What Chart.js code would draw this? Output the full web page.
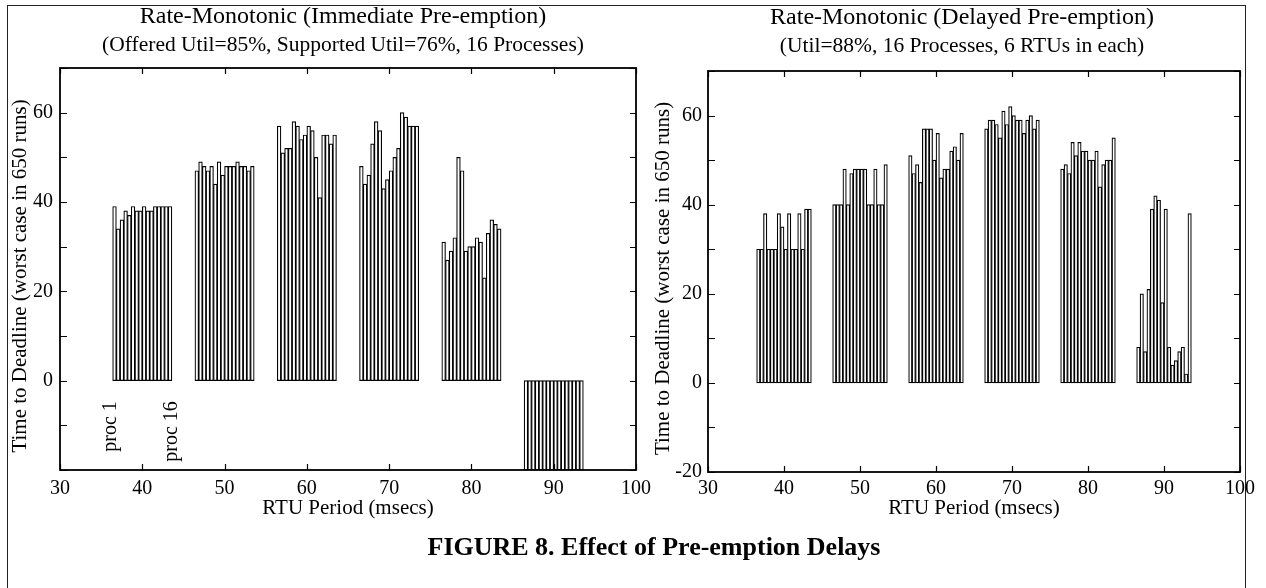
<!DOCTYPE html>
<html><head><meta charset="utf-8">
<script src="https://cdn.jsdelivr.net/npm/chart.js@4.4.1/dist/chart.umd.min.js"></script>
<style>
html,body{margin:0;padding:0;background:#fff;width:1266px;height:588px;overflow:hidden;}
#wrap{position:relative;width:1266px;height:588px;}
canvas{position:absolute;top:0;}
.t{position:absolute;font-family:'Liberation Serif','Times New Roman',serif;color:#000;white-space:nowrap;text-align:center;}
#frame{position:absolute;left:7px;top:5px;width:1237px;height:600px;border:1px solid #222;border-bottom:none;}
</style></head><body>
<div id="wrap">
<div id="frame"></div>
<canvas id="c1" width="660" height="588" style="left:0"></canvas>
<canvas id="c2" width="626" height="588" style="left:640px"></canvas>
<div class="t" style="left:43px;width:600px;top:3px;font-size:24px;line-height:24px">Rate-Monotonic (Immediate Pre-emption)</div>
<div class="t" style="left:43px;width:600px;top:34px;font-size:21.5px;line-height:21.5px">(Offered Util=85%, Supported Util=76%, 16 Processes)</div>
<div class="t" style="left:662px;width:600px;top:4px;font-size:24px;line-height:24px">Rate-Monotonic (Delayed Pre-emption)</div>
<div class="t" style="left:662px;width:600px;top:35px;font-size:21.5px;line-height:21.5px">(Util=88%, 16 Processes, 6 RTUs in each)</div>
<div class="t" style="left:154px;width:1000px;top:534px;font-size:26px;line-height:26px;font-weight:bold">FIGURE 8. Effect of Pre-emption Delays</div>
</div>
<script>
// ---- data ----
const periods = [40, 50, 60, 70, 80, 90];          // RTU period (msecs) of each group
const xTickLabels = [30, 40, 50, 60, 70, 80, 90, 100];
const yTickLabelsLeft = [0, 20, 40, 60];
const yTickLabelsRight = [-20, 0, 20, 40, 60];

// Immediate pre-emption: time to deadline, procs 1..16 in each period group
const imm40 = [39, 34, 36, 38, 37, 39, 38, 38, 39, 38, 38, 39, 39, 39, 39, 39];
const imm50 = [47, 49, 48, 47, 48, 44, 49, 46, 48, 48, 48, 49, 48, 48, 47, 48];
const imm60 = [57, 51, 52, 52, 58, 57, 54, 55, 57, 56, 50, 41, 55, 55, 53, 55];
const imm70 = [48, 44, 46, 53, 58, 56, 43, 45, 47, 50, 52, 60, 59, 57, 57, 57];
const imm80 = [31, 27, 29, 32, 50, 47, 29, 30, 30, 32, 31, 23, 33, 36, 35, 34];
const imm90 = [-20, -20, -20, -20, -20, -20, -20, -20, -20, -20, -20, -20, -20, -20, -20, -20];

// Delayed pre-emption
const del40 = [30, 30, 38, 30, 30, 30, 38, 35, 30, 38, 30, 30, 38, 30, 39, 39];
const del50 = [40, 40, 40, 48, 40, 47, 48, 48, 48, 48, 40, 40, 48, 40, 40, 49];
const del60 = [51, 47, 49, 45, 57, 57, 57, 50, 56, 46, 48, 48, 52, 53, 50, 56];
const del70 = [57, 59, 59, 58, 55, 61, 58, 62, 60, 59, 59, 56, 59, 60, 57, 59];
const del80 = [48, 49, 47, 54, 51, 54, 52, 52, 50, 50, 52, 44, 49, 50, 50, 55];
const del90 = [8, 20, 7, 21, 39, 42, 41, 18, 39, 8, 4, 5, 7, 8, 2, 38];

const procLabels = ['proc 1', 'proc 16'];
const procLabelX = [36.2, 43.6];
const procLabelY = -4.6;

const xTitle = 'RTU Period (msecs)';
const yTitle = 'Time to Deadline (worst case in 650 runs)';

// ---- styling / layout ----
const FONT = "'Liberation Serif', 'Times New Roman', serif";
const barStep = 0.45;   // spacing of processes inside a period group

function buildBars(groups) {
  const pts = [];
  groups.forEach((vals, g) => {
    vals.forEach((v, i) => {
      pts.push({ x: periods[g] + (i - (vals.length - 1) / 2) * barStep, y: v });
    });
  });
  return pts;
}

const plotFrame = {
  id: 'plotFrame',
  afterDraw(chart, args, opts) {
    const { ctx, chartArea: a, scales: { x, y } } = chart;
    ctx.save();
    ctx.strokeStyle = '#000';
    ctx.lineWidth = 1.2;
    ctx.beginPath();
    x.ticks.forEach(t => {
      const px = Math.round(x.getPixelForValue(t.value)) + 0.5;
      ctx.moveTo(px, a.bottom); ctx.lineTo(px, a.bottom - 6);
      ctx.moveTo(px, a.top); ctx.lineTo(px, a.top + 6);
    });
    y.ticks.forEach(t => {
      const py = Math.round(y.getPixelForValue(t.value)) + 0.5;
      ctx.moveTo(a.left, py); ctx.lineTo(a.left + 7, py);
      ctx.moveTo(a.right, py); ctx.lineTo(a.right - 6, py);
    });
    ctx.stroke();
    ctx.lineWidth = 1.8;
    ctx.strokeRect(a.left, a.top, a.right - a.left, a.bottom - a.top);
    // y-axis title
    ctx.fillStyle = '#000';
    ctx.font = '21px ' + FONT;
    ctx.textAlign = 'center';
    ctx.textBaseline = 'middle';
    ctx.translate(a.left - opts.titleGap, (a.top + a.bottom) / 2 + opts.titleShift);
    ctx.rotate(-Math.PI / 2);
    ctx.fillText(yTitle, 0, 0);
    ctx.restore();
  }
};

const procAnnot = {
  id: 'procAnnot',
  afterDraw(chart) {
    const { ctx, scales: { x, y } } = chart;
    ctx.save();
    ctx.fillStyle = '#000';
    ctx.font = '20px ' + FONT;
    ctx.textAlign = 'right';
    ctx.textBaseline = 'middle';
    procLabels.forEach((s, i) => {
      ctx.save();
      ctx.translate(x.getPixelForValue(procLabelX[i]), y.getPixelForValue(procLabelY));
      ctx.rotate(-Math.PI / 2);
      ctx.fillText(s, 0, 0);
      ctx.restore();
    });
    ctx.restore();
  }
};

function makeChart(id, groups, o) {
  return new Chart(document.getElementById(id), {
    type: 'bar',
    data: {
      datasets: [{
        data: buildBars(groups),
        backgroundColor: '#fff',
        borderColor: '#000',
        borderWidth: 1.2,
        borderSkipped: false,
        barPercentage: 1,
        categoryPercentage: 1
      }]
    },
    options: {
      responsive: false,
      animation: false,
      devicePixelRatio: 1,
      events: [],
      layout: { padding: o.padding },
      plugins: {
        legend: { display: false }, tooltip: { enabled: false }, title: { display: false },
        plotFrame: { titleGap: o.yTitleGap, titleShift: 7 }
      },
      scales: {
        x: {
          type: 'linear', min: 30, max: 100, offset: false,
          grid: { display: false, drawTicks: false }, border: { display: false },
          ticks: {
            stepSize: 10, autoSkip: false, maxRotation: 0, color: '#000',
            font: { family: FONT, size: 20 }, padding: o.xPad,
            callback: v => xTickLabels.includes(v) ? String(v) : ''
          },
          title: { display: true, text: xTitle, color: '#000', font: { family: FONT, size: 21 }, padding: { top: 0, bottom: 0 } },
          afterFit: s => { s.height = o.xH; }
        },
        y: {
          type: 'linear', min: -20, max: 70,
          grid: { display: false, drawTicks: false }, border: { display: false },
          ticks: {
            stepSize: 10, autoSkip: false, color: '#000',
            font: { family: FONT, size: 20 }, padding: o.yPad,
            callback: v => o.yLabels.includes(v) ? String(v) : ''
          },
          title: { display: false },
          afterFit: s => { s.width = o.yW; }
        }
      }
    },
    plugins: o.plugins
  });
}

makeChart('c1', [imm40, imm50, imm60, imm70, imm80, imm90], {
  padding: { top: 68, right: 24, bottom: 67, left: 0 },
  xH: 51, xPad: 7, yW: 60, yPad: 7, yTitleGap: 40,
  yLabels: yTickLabelsLeft, plugins: [plotFrame, procAnnot]
});
makeChart('c2', [del40, del50, del60, del70, del80, del90], {
  padding: { top: 71, right: 26, bottom: 67, left: 0 },
  xH: 49, xPad: 5, yW: 68, yPad: 6, yTitleGap: 45,
  yLabels: yTickLabelsRight, plugins: [plotFrame]
});
</script>
</body></html>
